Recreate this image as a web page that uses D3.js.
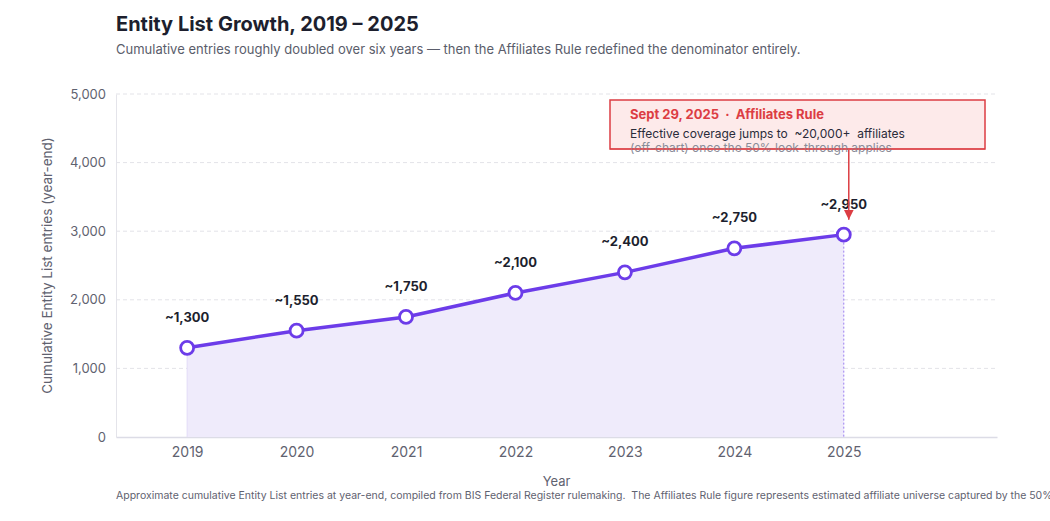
<!DOCTYPE html>
<html>
<head>
<meta charset="utf-8">
<script src="https://cdn.jsdelivr.net/npm/d3@7"></script>
<style>
  body { margin: 0; background: #fff; }
  svg { display: block; font-family: "Inter", "Noto Sans", sans-serif; }
  text { white-space: pre; }
</style>
</head>
<body>
<div id="main"></div>
<script>
// Datos del grafico
var years = [2019, 2020, 2021, 2022, 2023, 2024, 2025];
var entries = [1300, 1550, 1750, 2100, 2400, 2750, 2950];
var pointLabels = ["~1,300", "~1,550", "~1,750", "~2,100", "~2,400", "~2,750", "~2,950"];
var yTicks = [0, 1000, 2000, 3000, 4000, 5000];

var width = 1050, height = 521;
var plotLeft = 116, plotRight = 997, plotTop = 94, plotBottom = 437;
var purple = "#6c3ce9";
var red = "#dc3d43";

var svg = d3.select("#main").append("svg")
  .attr("width", width).attr("height", height);

var x = d3.scaleLinear().domain([2018.35, 2026.4]).range([plotLeft, plotRight]);
var y = d3.scaleLinear().domain([0, 5000]).range([plotBottom, plotTop]);

// Titulo y subtitulo
svg.append("text").attr("x", 116).attr("y", 31)
  .attr("font-size", 20).attr("font-weight", 700).attr("fill", "#1d1f2e")
  .text("Entity List Growth, 2019 – 2025");
svg.append("text").attr("x", 116).attr("y", 54)
  .attr("font-size", 13).attr("fill", "#5a5d6b")
  .text("Cumulative entries roughly doubled over six years — then the Affiliates Rule redefined the denominator entirely.");

// Rejilla horizontal
svg.append("g").selectAll("line").data(yTicks.filter(function(d) { return d > 0; }))
  .join("line")
  .attr("x1", plotLeft).attr("x2", plotRight)
  .attr("y1", function(d) { return y(d); }).attr("y2", function(d) { return y(d); })
  .attr("stroke", "#e3e3e8").attr("stroke-dasharray", "4 3");

// Ejes
var yAxis = svg.append("g").attr("transform", "translate(" + plotLeft + ",0)")
  .call(d3.axisLeft(y).tickValues(yTicks).tickFormat(d3.format(",")).tickSize(0).tickPadding(10));
yAxis.select(".domain").attr("stroke", "#e4e4ea");
yAxis.selectAll("text").attr("font-size", 13).attr("fill", "#5f6270").attr("font-family", "Inter, sans-serif");

var xAxis = svg.append("g").attr("transform", "translate(0," + plotBottom + ")")
  .call(d3.axisBottom(x).tickValues(years).tickFormat(d3.format("d")).tickSize(0).tickPadding(10));
xAxis.select(".domain").attr("stroke", "#dcdce6").attr("stroke-width", 1.5);
xAxis.selectAll("text").attr("font-size", 14).attr("fill", "#5f6270").attr("font-family", "Inter, sans-serif");

// Titulos de ejes
svg.append("text").attr("x", (plotLeft + plotRight) / 2).attr("y", 486)
  .attr("text-anchor", "middle").attr("font-size", 13).attr("fill", "#5f6270").text("Year");
svg.append("text").attr("transform", "translate(52," + ((plotTop + plotBottom) / 2) + ") rotate(-90)")
  .attr("text-anchor", "middle").attr("font-size", 13.5).attr("fill", "#5f6270")
  .text("Cumulative Entity List entries (year-end)");

var pts = years.map(function(d, i) { return { year: d, value: entries[i], label: pointLabels[i] }; });

// Area bajo la linea
svg.append("path").datum(pts)
  .attr("d", d3.area().x(function(d) { return x(d.year); }).y0(y(0)).y1(function(d) { return y(d.value); }))
  .attr("fill", "#efebfb");
svg.append("line")
  .attr("x1", x(years[0])).attr("x2", x(years[0]))
  .attr("y1", y(entries[0])).attr("y2", y(0))
  .attr("stroke", "#e2dcf7").attr("stroke-width", 1);

// Linea punteada en 2025
var last = pts[pts.length - 1];
svg.append("line")
  .attr("x1", x(last.year)).attr("x2", x(last.year))
  .attr("y1", y(last.value)).attr("y2", y(0))
  .attr("stroke", "#9a7cf0").attr("stroke-width", 1).attr("stroke-dasharray", "2 2");

// Linea principal
svg.append("path").datum(pts)
  .attr("d", d3.line().x(function(d) { return x(d.year); }).y(function(d) { return y(d.value); }))
  .attr("fill", "none").attr("stroke", purple).attr("stroke-width", 3.5);

svg.append("g").selectAll("circle").data(pts).join("circle")
  .attr("cx", function(d) { return x(d.year); }).attr("cy", function(d) { return y(d.value); })
  .attr("r", 6.5).attr("fill", "#fff").attr("stroke", purple).attr("stroke-width", 2.8);

svg.append("g").selectAll("text").data(pts).join("text")
  .attr("x", function(d) { return x(d.year); }).attr("y", function(d) { return y(d.value) - 26; })
  .attr("text-anchor", "middle").attr("font-size", 13).attr("font-weight", 700).attr("fill", "#1d1f2e")
  .text(function(d) { return d.label; });

// Anotacion del Affiliates Rule
svg.append("defs").append("marker")
  .attr("id", "arrowRed").attr("viewBox", "0 0 10 10").attr("refX", 10).attr("refY", 5)
  .attr("markerWidth", 6.5).attr("markerHeight", 6.5).attr("orient", "auto")
  .append("path").attr("d", "M0,0 L10,5 L0,10 z").attr("fill", red);

svg.append("rect").attr("x", 610).attr("y", 100).attr("width", 375).attr("height", 49)
  .attr("fill", "#fdeaea").attr("stroke", red).attr("stroke-width", 1.5);

svg.append("line")
  .attr("x1", x(last.year) + 5).attr("x2", x(last.year) + 5)
  .attr("y1", 150).attr("y2", y(last.value) - 15)
  .attr("stroke", red).attr("stroke-width", 1.5).attr("marker-end", "url(#arrowRed)");

svg.append("text").attr("x", 630).attr("y", 119)
  .attr("font-size", 13).attr("font-weight", 700).attr("fill", red)
  .text("Sept 29, 2025  ·  Affiliates Rule");
svg.append("text").attr("x", 630).attr("y", 138)
  .attr("font-size", 12).attr("fill", "#2a2c3a")
  .text("Effective coverage jumps to  ~20,000+  affiliates");
svg.append("text").attr("x", 630).attr("y", 152)
  .attr("font-size", 12).attr("fill", "#8a8c98")
  .text("(off-chart) once the 50% look-through applies");
// el borde del recuadro pasa por encima de la tercera linea
svg.append("line").attr("x1", 610).attr("x2", 985).attr("y1", 149).attr("y2", 149)
  .attr("stroke", red).attr("stroke-width", 1.5).attr("opacity", 0.6);

// Nota al pie
svg.append("text").attr("x", 116).attr("y", 499)
  .attr("font-size", 10.5).attr("fill", "#5f6270")
  .text("Approximate cumulative Entity List entries at year-end, compiled from BIS Federal Register rulemaking.  The Affiliates Rule figure represents estimated affiliate universe captured by the 50% look-through.");
</script>
</body>
</html>
